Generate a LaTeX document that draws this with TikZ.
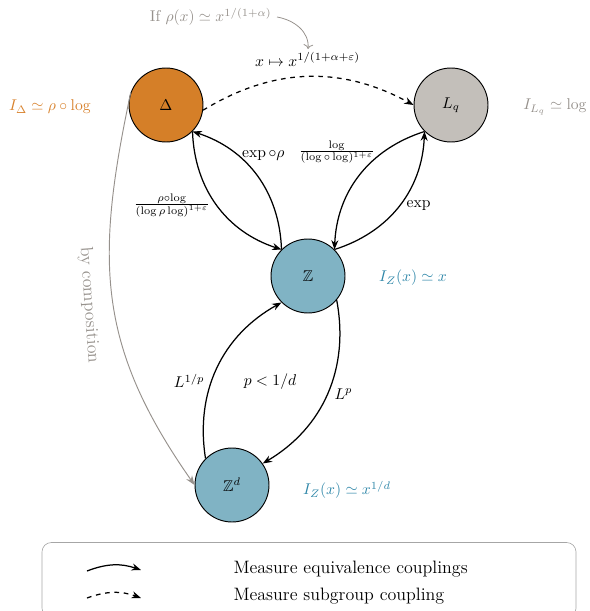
\documentclass[tikz,border=0pt]{standalone}
\usepackage{amsmath,amssymb}
\usepackage{tikz}
\usetikzlibrary{arrows.meta}
\definecolor{deltaorange}{RGB}{213,127,40}
\definecolor{lqgray}{RGB}{195,191,186}
\definecolor{zblue}{RGB}{128,179,196}
\definecolor{notegray}{RGB}{150,145,140}
\definecolor{zlabel}{RGB}{46,134,168}
\definecolor{deltalabel}{RGB}{216,130,45}
\tikzset{
  grp/.style={circle, draw, line width=0.6pt, minimum size=1.665cm, inner sep=0pt},
  mearrow/.style={-{Stealth[length=6pt,width=4.5pt]}, line width=0.8pt},
  subarrow/.style={mearrow, dashed},
  comparrow/.style={-{Stealth[length=6pt,width=4.5pt]}, line width=0.6pt, notegray},
  bigtext/.style={font=\fontsize{11.5pt}{13pt}\selectfont}
}

\begin{document}
\begin{tikzpicture}[x=0.0225cm, y=-0.0225cm]
    \useasboundingbox (0,0) rectangle (590,611);
    % groups
    \node[grp, fill=deltaorange] (delta) at (166,105) {$\Delta$};
    \node[grp, fill=lqgray] (lq) at (451,105) {$L_q$};
    \node[grp, fill=zblue] (z) at (308,276) {$\mathbb{Z}$};
    \node[grp, fill=zblue] (zd) at (232,485) {$\mathbb{Z}^d$};
    % isoperimetric profiles
    \node[deltalabel] (idelta) at (50,107) {$I_\Delta \simeq \rho\circ\log$};
    \node[notegray] (ilq) at (555,107) {$I_{L_q} \simeq \log$};
    \node[zlabel] (iz) at (413,278) {$I_Z(x) \simeq x$};
    \node[zlabel] (izd) at (347,490) {$I_Z(x) \simeq x^{1/d}$};
    % couplings
    \draw[subarrow] (delta.-8) to[bend left=30]
      node[midway, above=3pt] {$x \mapsto x^{1/(1+\alpha+\varepsilon)}$} (lq.west);
    \draw[mearrow] (delta.south east) to[bend right=35]
      node[pos=0.5, left=1pt] {$\frac{\rho\circ\log}{(\log\rho\log)^{1+\varepsilon}}$} (z.north west);
    \draw[mearrow] (z.north west) to[bend right=35]
      node[pos=0.64, above right=-4pt] {$\exp\circ\rho$} (delta.south east);
    \draw[mearrow] (lq.south west) to[bend right=35]
      node[pos=0.28, left=2pt] {$\frac{\log}{(\log\circ\log)^{1+\varepsilon}}$} (z.north east);
    \draw[mearrow] (z.north east) to[bend right=35]
      node[pos=0.5, right=1pt] {$\exp$} (lq.south west);
    \draw[mearrow] (z.-40) to[bend left=35]
      node[pos=0.5, right=1pt] {$L^p$} (zd.35);
    \draw[mearrow] (zd.north west) to[bend left=35]
      node[pos=0.42, left=1pt] {$L^{1/p}$} (z.south west);
    \node (pcond) at (270,382) {$p < 1/d$};
    \draw[comparrow] (delta.160) to[out=258, in=125, looseness=1.1] (zd.west);
    \node[notegray, bigtext, rotate=-86] (bycomp) at (89,305) {by composition};
    % condition on rho
    \node[notegray, anchor=east] (ifnote) at (277,17) {If $\rho(x) \simeq x^{1/(1+\alpha)}$};
    \coordinate (iftip) at (308,49);
    \draw[notegray, line width=0.5pt, -{To[length=3pt]}] (ifnote.east) to[out=-10, in=85] (iftip);
    % legend
    \node[draw=gray!70, rounded corners=6pt, minimum width=534*0.0225cm,
      minimum height=75*0.0225cm, inner sep=0pt] (legend) at (309,580) {};
    \coordinate (s1) at (87,571);
    \coordinate (t1) at (141,570);
    \coordinate (s2) at (87,598);
    \coordinate (t2) at (141,598);
    \draw[mearrow] (s1) to[bend left=20] (t1);
    \draw[subarrow] (s2) to[bend left=20] (t2);
    \node[anchor=west, bigtext] (leg1) at (228,569) {Measure equivalence couplings};
    \node[anchor=west, bigtext] (leg2) at (228,596) {Measure subgroup coupling};
  \end{tikzpicture}
\end{document}
